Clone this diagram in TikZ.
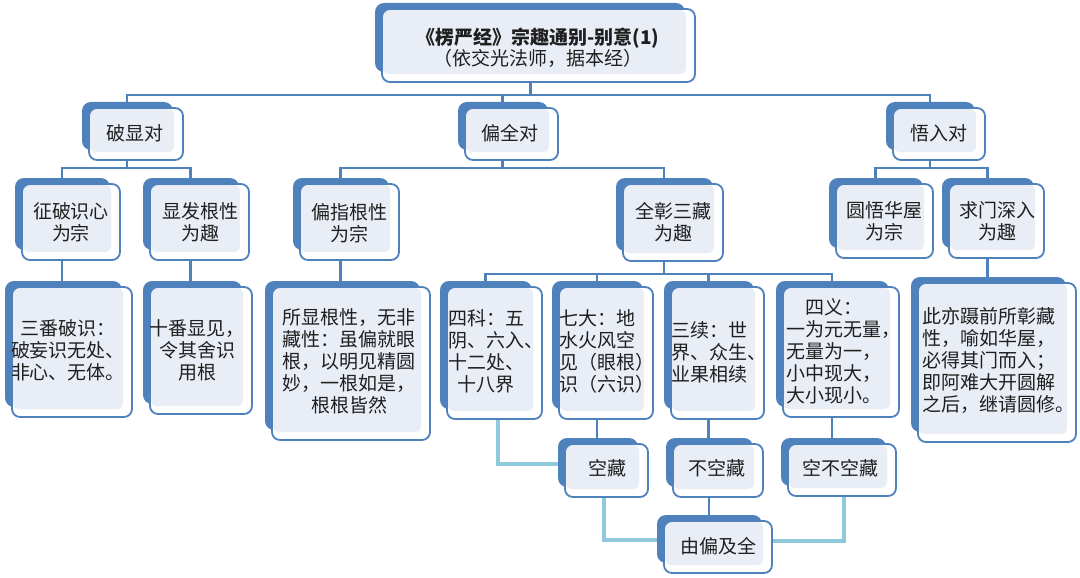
\documentclass[tikz,border=0pt]{standalone}
\usepackage{fontspec}
\setmainfont{Noto Sans CJK SC}
\usetikzlibrary{fit,backgrounds}
\definecolor{bblue}{HTML}{4F81BD}
\definecolor{lightbg}{HTML}{E9EEF6}
\definecolor{lconncol}{HTML}{8FCADC}
\definecolor{txtcol}{HTML}{1F1F1F}
\tikzset{
  frontbox/.style={draw=bblue, line width=1.8pt, rounded corners=8pt, inner sep=0pt},
  conn/.style={draw=bblue, line width=2.4pt},
  lconn/.style={draw=lconncol, line width=3.2pt},
  txt/.style={text=txtcol, font=\fontsize{19}{22}\selectfont, align=center, inner sep=0pt}
}
\newcommand\smbox[5]{%
  \fill[bblue, rounded corners=9pt] (#2-7,#3-6) rectangle (#4-10,#5-10);
  \fill[white, rounded corners=8pt] (#2,#3) rectangle (#4,#5);
  \fill[lightbg, rounded corners=5pt] (#2+1,#3+1) rectangle (#4-9,#5-8);
  \node[frontbox, fit={(#2,#3) (#4,#5)}] (#1) {};
}
\newcommand\ovl[2]{\makebox[#1][l]{#2}}
\begin{document}
\begin{tikzpicture}[x=1pt,y=-1pt]
\useasboundingbox (0,0) rectangle (1080,578);
% boxes
\smbox{T}{382}{9}{695}{82}
\smbox{A}{89}{108}{183}{160}
\smbox{B}{465}{108}{558}{160}
\smbox{C}{893}{108}{985}{160}
\smbox{A1}{22}{184}{120}{260}
\smbox{A2}{150}{184}{249}{260}
\smbox{B1}{300}{184}{399}{260}
\smbox{B2}{623}{184}{723}{261}
\smbox{C1}{836}{184}{933}{258}
\smbox{C2}{949}{184}{1044}{258}
\smbox{A1a}{12}{287}{132}{417}
\smbox{A2a}{150}{287}{252}{414}
\smbox{B1a}{272}{287}{430}{440}
\smbox{K1}{447}{287}{542}{419}
\smbox{K2}{559}{287}{653}{419}
\smbox{K3}{671}{287}{764}{419}
\smbox{K4}{783}{287}{899}{417}
\smbox{C2a}{918}{283}{1076}{442}
\smbox{D1}{565}{444}{648}{497}
\smbox{D2}{673}{444}{763}{497}
\smbox{D3}{788}{444}{896}{496}
\smbox{E}{664}{521}{772}{573}
% texts
\node[txt, font=\fontsize{19}{21}\selectfont] (tT) at (538,48) {\textbf{《楞严经》宗趣通别-别意(1)}\\（依交光法师，据本经）};
\node[txt] (tA) at (135,133) {破显对};
\node[txt] (tB) at (510,133) {偏全对};
\node[txt] (tC) at (939,133) {悟入对};
\node[txt] (tA1) at (71,222) {征破识心\\为宗};
\node[txt] (tA2) at (200,222) {显发根性\\为趣};
\node[txt] (tB1) at (349,223) {偏指根性\\为宗};
\node[txt] (tB2) at (673,222) {全彰三藏\\为趣};
\node[txt] (tC1) at (884,221) {圆悟华屋\\为宗};
\node[txt] (tC2) at (997,221) {求门深入\\为趣};
\node[txt] (tA1a) at (68,350) {三番破识：\\破妄识无处、\\非心、无体。};
\node[txt] (tA2a) at (197,350) {十番显见，\\令其舍识\\用根};
\node[txt] (tB1a) at (349,361) {所显根性，无非\\藏性：虽偏就眼\\根，以明见精圆\\妙，一根如是，\\根根皆然};
\node[txt] (tK1) at (486,351) {四科：五\\\ovl{76pt}{阴、六入、}\\十二处、\\十八界};
\node[txt] (tK2) at (597,351) {七大：地\\水火风空\\\ovl{76pt}{见（眼根）}\\\ovl{76pt}{识（六识）}};
\node[txt] (tK3) at (709,352) {三续：世\\\ovl{76pt}{界、众生、}\\业果相续};
\node[txt] (tK4) at (834,351) {四义：\\\ovl{95pt}{一为元无量，}\\\ovl{95pt}{无量为一，}\\\ovl{95pt}{小中现大，}\\\ovl{95pt}{大小现小。}};
\node[txt] (tC2a) at (989,360) {此亦蹑前所彰藏\\性，喻如华屋，\\必得其门而入；\\即阿难大开圆解\\\ovl{133pt}{之后，继请圆修。}};
\node[txt] (tD1) at (607,468) {空藏};
\node[txt] (tD2) at (717,468) {不空藏};
\node[txt] (tD3) at (840,468) {空不空藏};
\node[txt] (tE) at (718,546) {由偏及全};
% connectors
\begin{pgfonlayer}{background}
\fill[white] (0,0) rectangle (1080,578);
\foreach \c in {A,B,C}
  \draw[conn] ([xshift=-8pt]T.south) -- ++(0,12) -| ([xshift=-9pt]\c.north);
\foreach \p/\c in {A/A1,A/A2,B/B1,B/B2,C/C1,C/C2}
  \draw[conn] ([xshift=-9pt]\p.south) -- ++(0,7) -| ([xshift=-9pt]\c.north);
\foreach \c in {K1,K2,K3,K4}
  \draw[conn] ([xshift=-9pt]B2.south) -- ++(0,12) -| ([xshift=-9pt]\c.north);
\foreach \p/\c in {A1/A1a,A2/A2a,B1/B1a,C2/C2a,K2/D1,K3/D2,K4/D3,D2/E}
  \draw[conn] ([xshift=-9pt]\p.south) -- ([xshift=-9pt]\p.south |- \c.north);
\draw[lconn] ([xshift=3.5pt]K1.south) |- ([yshift=6.5pt]D1.west);
\draw[lconn] ([xshift=-2.5pt]D1.south) |- ([yshift=7pt]E.west);
\draw[lconn] ([xshift=2pt]D3.south) |- ([yshift=6pt]E.east);
\end{pgfonlayer}
\end{tikzpicture}
\end{document}
